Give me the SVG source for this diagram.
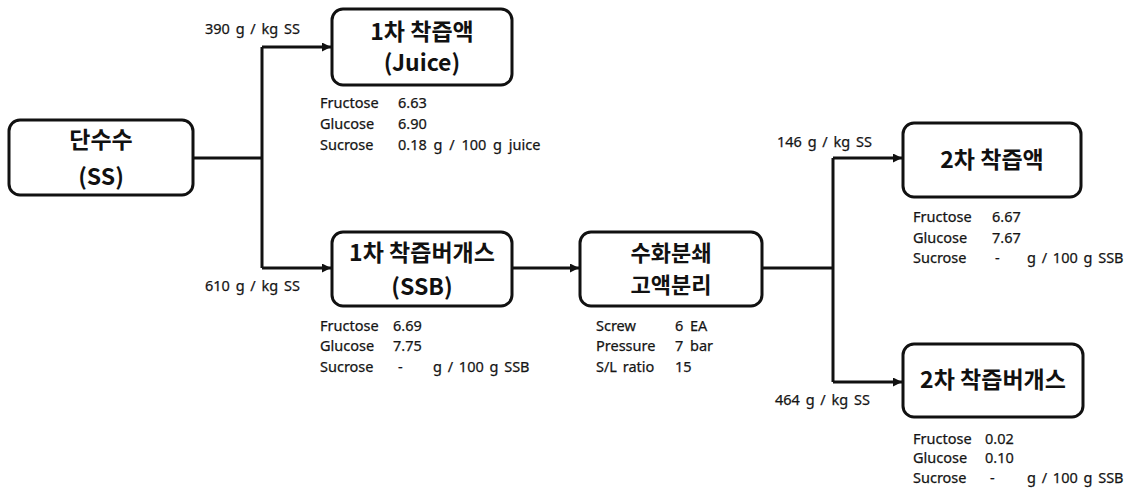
<svg xmlns="http://www.w3.org/2000/svg" width="1133" height="492" viewBox="0 0 1133 492">
<defs>
<marker id="ah" viewBox="0 0 10 10" refX="10" refY="5" markerWidth="9" markerHeight="9" markerUnits="userSpaceOnUse" orient="auto">
<path d="M0,0 L10,5 L0,10 Z" fill="#111"/>
</marker>
<style>
.box{fill:#fff;stroke:#111;stroke-width:3}
.t{font-family:"Noto Sans CJK KR","Noto Sans",sans-serif;font-weight:700;font-size:23px;fill:#111;text-anchor:middle}
.d{font-family:"Noto Sans","Noto Sans CJK KR",sans-serif;font-size:14.5px;fill:#151515;word-spacing:2px;stroke:#151515;stroke-width:0.25px}
.ln{fill:none;stroke:#111;stroke-width:3}
</style>
</defs>
<rect width="1133" height="492" fill="#fff"/>
<g id="connectors">
<path class="ln" d="M193,158 H262"/>
<path class="ln" d="M262,47 V268"/>
<path class="ln" d="M262,47 H331" marker-end="url(#ah)"/>
<path class="ln" d="M262,268 H331" marker-end="url(#ah)"/>
<path class="ln" d="M512,268 H579" marker-end="url(#ah)"/>
<path class="ln" d="M762,268 H833"/>
<path class="ln" d="M833,158 V382"/>
<path class="ln" d="M833,158 H902" marker-end="url(#ah)"/>
<path class="ln" d="M833,382 H902" marker-end="url(#ah)"/>
<text class="d" x="205" y="34">390 g / kg SS</text>
<text class="d" x="205" y="291">610 g / kg SS</text>
<text class="d" x="777" y="147">146 g / kg SS</text>
<text class="d" x="775" y="405">464 g / kg SS</text>
</g>
<g id="node-ss">
<rect class="box" x="9" y="120" width="184" height="75" rx="11"/>
<text class="t" x="101" y="148">단수수</text>
<text class="t" x="101" y="185">(SS)</text>
</g>
<g id="node-juice1">
<rect class="box" x="332" y="9" width="180" height="76" rx="11"/>
<text class="t" x="422" y="40">1차 착즙액</text>
<text class="t" x="422" y="71">(Juice)</text>
<text class="d" x="320" y="108">Fructose</text>
<text class="d" x="398" y="108">6.63</text>
<text class="d" x="320" y="129">Glucose</text>
<text class="d" x="398" y="129">6.90</text>
<text class="d" x="320" y="150">Sucrose</text>
<text class="d" x="398" y="150" style="word-spacing:3px">0.18 g / 100 g juice</text>
</g>
<g id="node-ssb1">
<rect class="box" x="332" y="232" width="180" height="74" rx="11"/>
<text class="t" x="422" y="261">1차 착즙버개스</text>
<text class="t" x="422" y="295">(SSB)</text>
<text class="d" x="320" y="331">Fructose</text>
<text class="d" x="393" y="331">6.69</text>
<text class="d" x="320" y="351">Glucose</text>
<text class="d" x="393" y="351">7.75</text>
<text class="d" x="320" y="372">Sucrose</text>
<text class="d" x="398" y="372">-</text>
<text class="d" x="433" y="372">g / 100 g SSB</text>
</g>
<g id="node-process">
<rect class="box" x="580" y="232" width="182" height="74" rx="11"/>
<text class="t" x="671" y="261" style="font-size:22px">수화분쇄</text>
<text class="t" x="671" y="293" style="font-size:22px">고액분리</text>
<text class="d" x="596" y="331">Screw</text>
<text class="d" x="675" y="331">6</text>
<text class="d" x="690" y="331">EA</text>
<text class="d" x="596" y="351">Pressure</text>
<text class="d" x="675" y="351">7</text>
<text class="d" x="690" y="351">bar</text>
<text class="d" x="596" y="372">S/L ratio</text>
<text class="d" x="675" y="372">15</text>
</g>
<g id="node-juice2">
<rect class="box" x="903" y="123" width="178" height="74" rx="11"/>
<text class="t" x="992" y="168">2차 착즙액</text>
<text class="d" x="913" y="222">Fructose</text>
<text class="d" x="992" y="222">6.67</text>
<text class="d" x="913" y="243">Glucose</text>
<text class="d" x="992" y="243">7.67</text>
<text class="d" x="913" y="263">Sucrose</text>
<text class="d" x="995" y="263">-</text>
<text class="d" x="1027" y="263">g / 100 g SSB</text>
</g>
<g id="node-ssb2">
<rect class="box" x="903" y="344" width="180" height="73" rx="11"/>
<text class="t" x="993" y="388">2차 착즙버개스</text>
<text class="d" x="913" y="444">Fructose</text>
<text class="d" x="985" y="444">0.02</text>
<text class="d" x="913" y="463">Glucose</text>
<text class="d" x="985" y="463">0.10</text>
<text class="d" x="913" y="483">Sucrose</text>
<text class="d" x="990" y="483">-</text>
<text class="d" x="1027" y="483">g / 100 g SSB</text>
</g>
</svg>
